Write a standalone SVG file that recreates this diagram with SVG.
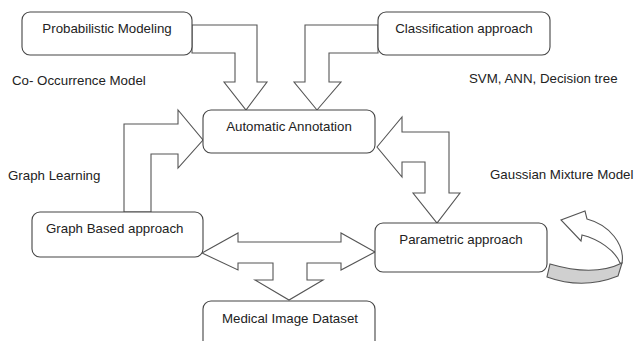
<svg xmlns="http://www.w3.org/2000/svg" width="639" height="341" viewBox="0 0 639 341">
<style>
.box{fill:#fff;stroke:#444;stroke-width:1.1}
.arr{fill:#fff;stroke:#555;stroke-width:1.1;stroke-linejoin:miter}
.band{fill:#d0d0d0;stroke:#555;stroke-width:1.1}
text{font-family:"Liberation Sans",Arial,sans-serif;font-size:13.3px;fill:#222}
.c{text-anchor:middle}
</style>
<rect width="639" height="341" fill="#fff"/>
<g id="connectors">
<polygon class="arr" points="192,25 257,25 257,82 267,82 246,110 224,82 235,82 235,53 192,53"/>
<polygon class="arr" points="378,25 305,25 305,82 294,82 317,110 341,82 329,82 329,53 378,53"/>
<polygon class="arr" points="124,212 124,124 178,124 178,110 203,140 178,168 178,154 151,154 151,212"/>
<polygon class="arr" points="377,147 402,117 402,132 449,132 449,193 460,193 437,223 413,193 425,193 425,162 402,162 402,177"/>
<polygon class="arr" points="202,253 238,233 238,242 341,242 341,233 375,252 341,270 341,263 307,263 307,280 323,280 289,300 255,280 273,280 273,263 238,263 238,270"/>
<g id="self-loop">
<path class="band" d="M550,264 Q594,277 622,263 L618,276 Q583,290 547,277 Z"/>
<path class="arr" d="M622,263 C625,245 610,225 587,219 L585,211 L561,220 L581,241 L582,235 C598,239 615,250 620,263 Z"/>
</g>
</g>
<g id="probabilistic-modeling">
<rect class="box" x="22" y="12" width="170" height="43" rx="8"/>
<text class="c" x="107" y="33">Probabilistic Modeling</text>
</g>
<g id="classification-approach">
<rect class="box" x="378" y="12" width="172" height="43" rx="8"/>
<text class="c" x="464" y="33">Classification approach</text>
</g>
<g id="automatic-annotation">
<rect class="box" x="203" y="110" width="172" height="43" rx="8"/>
<text class="c" x="289" y="131">Automatic Annotation</text>
</g>
<g id="graph-based-approach">
<rect class="box" x="32" y="212" width="171" height="45" rx="8"/>
<text x="46" y="233">Graph Based approach</text>
</g>
<g id="parametric-approach">
<rect class="box" x="375" y="223" width="172" height="49" rx="8"/>
<text class="c" x="461" y="244">Parametric approach</text>
</g>
<g id="medical-image-dataset">
<rect class="box" x="203" y="301" width="172" height="48" rx="8"/>
<text class="c" x="290" y="323">Medical Image Dataset</text>
</g>
<g id="labels">
<text x="12" y="85">Co- Occurrence Model</text>
<text x="469" y="83">SVM, ANN, Decision tree</text>
<text x="8" y="180">Graph Learning</text>
<text x="490" y="179">Gaussian Mixture Model</text>
</g>
</svg>
